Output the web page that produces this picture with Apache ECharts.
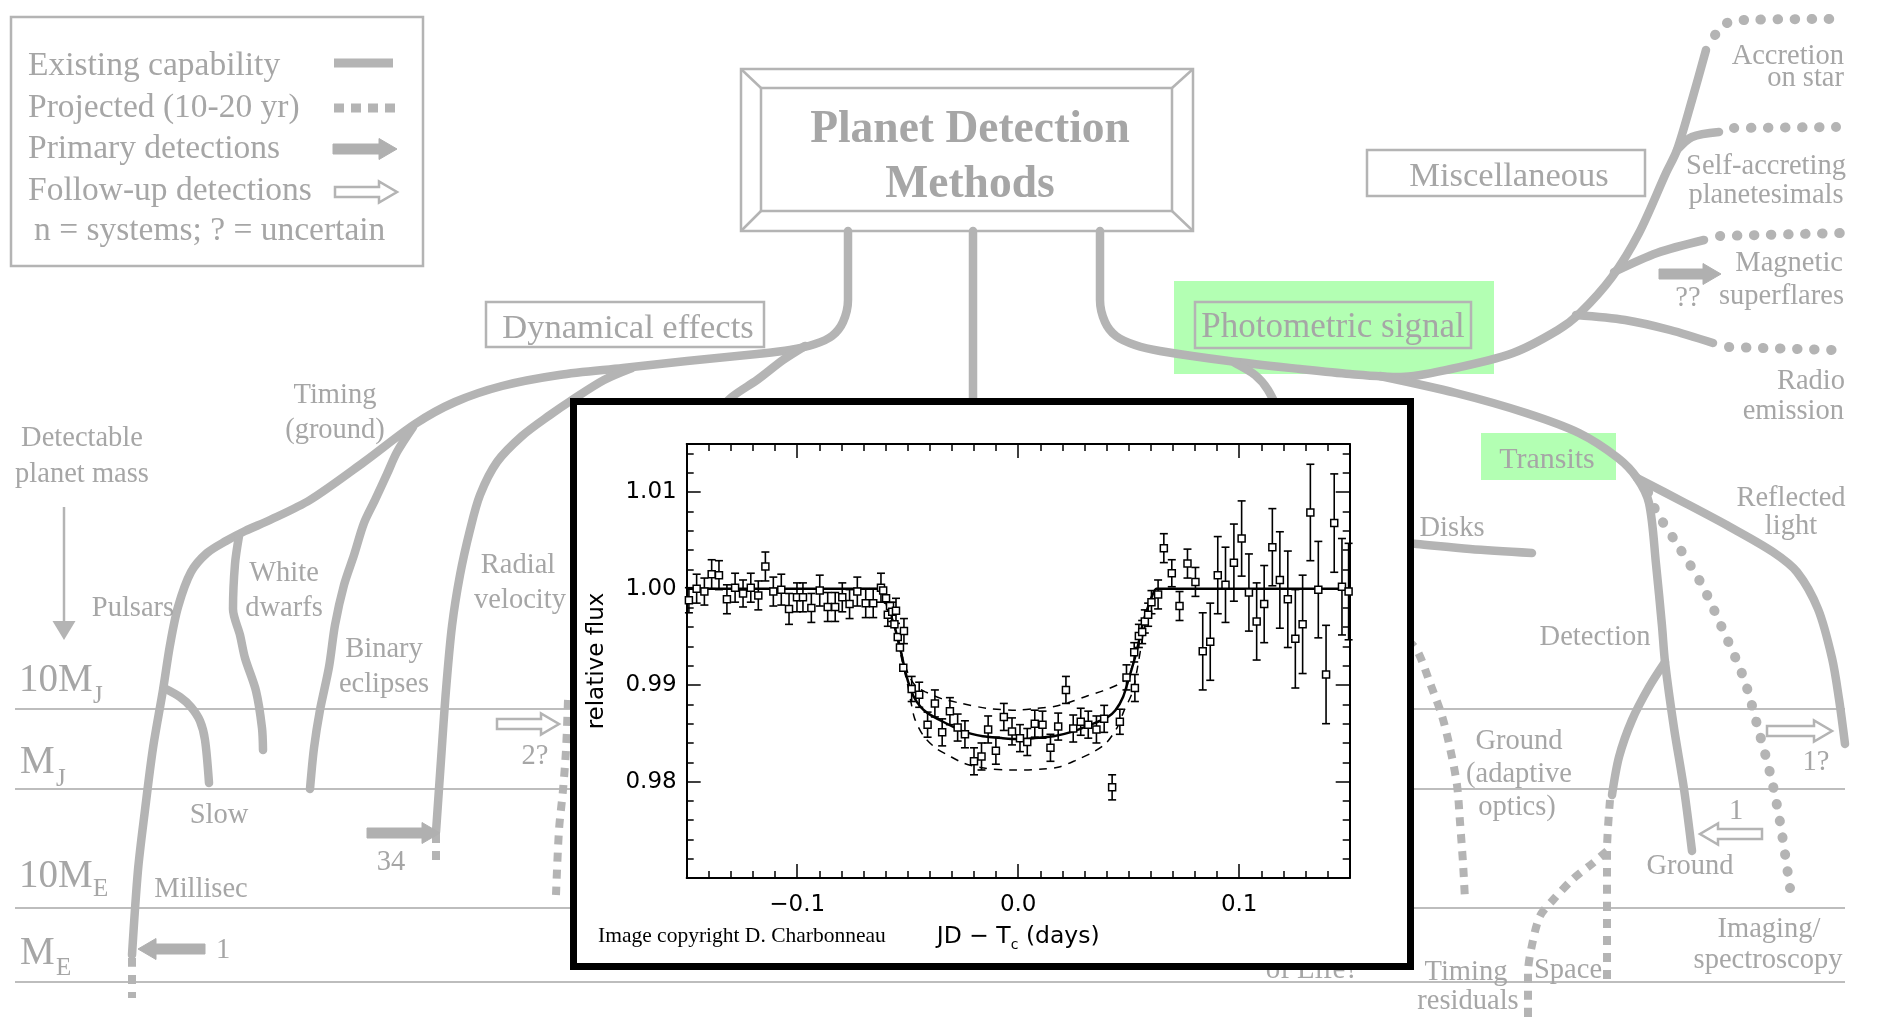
<!DOCTYPE html>
<html>
<head>
<meta charset="utf-8">
<title>Planet Detection Methods</title>
<script src="https://cdn.jsdelivr.net/npm/echarts@6.0.0/dist/echarts.min.js"></script>
<style>
  html, body { margin: 0; padding: 0; background: #fff; }
  #chart { width: 1902px; height: 1022px; }
</style>
</head>
<body>
<div id="chart"></div>
<script>
// ---- inset: transit light curve (HD 209458) ----
const obsTime = [
  -0.1490, -0.1455, -0.1420, -0.1387, -0.1354, -0.1318, -0.1281, -0.1245, -0.1210, -0.1176,
  -0.1144, -0.1108, -0.1072, -0.1037, -0.1001, -0.0974, -0.0936, -0.0898, -0.0862, -0.0828,
  -0.0796, -0.0763, -0.0728, -0.0690, -0.0656, -0.0621, -0.0611, -0.0598, -0.0590, -0.0580,
  -0.0570, -0.0560, -0.0553, -0.0545, -0.0535, -0.0520, -0.0517, -0.0482, -0.0448, -0.0410,
  -0.0377, -0.0344, -0.0309, -0.0274, -0.0241, -0.0200, -0.0166, -0.0136, -0.0101, -0.0065,
  -0.0028, 0.0008, 0.0041, 0.0075, 0.0110, 0.0146, 0.0181, 0.0216, 0.0249, 0.0283,
  0.0317, 0.0354, 0.0389, 0.0425, 0.0460, 0.0490, 0.0525, 0.0528, 0.0546, 0.0561,
  0.0573, 0.0588, 0.0603, 0.0633, 0.0659, 0.0695, 0.0730, 0.0766, 0.0802, 0.0835,
  0.0869, 0.0903, 0.0938, 0.0976, 0.1011, 0.1044, 0.1079, 0.1113, 0.1150, 0.1184,
  0.1220, 0.1254, 0.1287, 0.1322, 0.1358, 0.1393, 0.1430, 0.1465, 0.1495
];
const obsFlux = [
  0.9988, 1.0000, 0.9997, 1.0015, 1.0014, 0.9989, 1.0001, 0.9995, 1.0001, 0.9993,
  1.0023, 0.9997, 0.9999, 0.9979, 0.9991, 0.9991, 0.9980, 0.9998, 0.9981, 0.9981,
  0.9991, 0.9984, 0.9997, 0.9985, 0.9985, 1.0001, 0.9998, 0.9990, 0.9973, 0.9982,
  0.9976, 0.9963, 0.9977, 0.9950, 0.9939, 0.9918, 0.9956, 0.9896, 0.9890, 0.9859,
  0.9881, 0.9851, 0.9873, 0.9856, 0.9849, 0.9821, 0.9826, 0.9854, 0.9832, 0.9867,
  0.9852, 0.9845, 0.9841, 0.9860, 0.9859, 0.9835, 0.9857, 0.9895, 0.9855, 0.9862,
  0.9859, 0.9854, 0.9865, 0.9794, 0.9862, 0.9908, 0.9934, 0.9897, 0.9951, 0.9955,
  0.9966, 0.9973, 0.9986, 0.9994, 1.0042, 1.0016, 0.9982, 1.0026, 1.0007, 0.9935,
  0.9945, 1.0014, 1.0004, 1.0027, 1.0052, 0.9996, 0.9966, 0.9984, 1.0043, 1.0009,
  0.9989, 0.9948, 0.9963, 1.0079, 0.9999, 0.9911, 1.0068, 1.0002, 0.9997
];
const obsErr = [
  0.0013, 0.0015, 0.0014, 0.0015, 0.0015, 0.0015, 0.0015, 0.0014, 0.0015, 0.0015,
  0.0015, 0.0015, 0.0016, 0.0016, 0.0015, 0.0015, 0.0015, 0.0016, 0.0015, 0.0015,
  0.0015, 0.0015, 0.0015, 0.0015, 0.0015, 0.0015, 0, 0, 0.0012, 0,
  0.0010, 0, 0.0013, 0, 0, 0, 0.0013, 0.0013, 0.0013, 0.0013,
  0.0014, 0.0014, 0.0014, 0.0014, 0.0014, 0.0014, 0.0014, 0.0014, 0.0014, 0.0014,
  0.0014, 0.0014, 0.0014, 0.0014, 0.0014, 0.0014, 0.0014, 0.0014, 0.0014, 0.0014,
  0.0014, 0.0014, 0.0014, 0.0013, 0.0013, 0.0013, 0.0010, 0.0014, 0.0012, 0.0012,
  0.0012, 0.0012, 0.0012, 0.0015, 0.0015, 0.0014, 0.0015, 0.0015, 0.0015, 0.0040,
  0.0040, 0.0040, 0.0039, 0.0040, 0.0039, 0.0040, 0.0040, 0.0040, 0.0040, 0.0050,
  0.0050, 0.0051, 0.0051, 0.0050, 0.0050, 0.0051, 0.0051, 0.0050, 0.0050
];

// best-fit model and the two bracketing models (dashed)
const modelTime = [-0.150, -0.0618, -0.0605, -0.0590, -0.0565, -0.0535, -0.0505, -0.0475, -0.0440, -0.0410,
  -0.0340, -0.0250, -0.0160, -0.0070, 0.0000, 0.0070, 0.0160, 0.0250, 0.0340, 0.0400,
  0.0440, 0.0475, 0.0505, 0.0535, 0.0565, 0.0590, 0.0605, 0.0625, 0.150];
const modelFlux = [1.0000, 1.0000, 0.9992, 0.9980, 0.9965, 0.9939, 0.9909, 0.9889, 0.9877, 0.9871,
  0.9862, 0.9852, 0.9847, 0.9845, 0.9844, 0.9845, 0.9847, 0.9852, 0.9860, 0.9866,
  0.9874, 0.9888, 0.9910, 0.9934, 0.9965, 0.9983, 0.9992, 1.0000, 1.0000];
const shallowTime = [-0.0560, -0.0520, -0.0490, -0.0460, -0.0420, -0.0347, -0.0255, -0.0142, -0.0010,
  0.0085, 0.0168, 0.0242, 0.0315, 0.0383, 0.0455, 0.0495, 0.0530, 0.0560];
const shallowFlux = [0.9966, 0.9926, 0.9908, 0.9898, 0.9893, 0.9886, 0.9881, 0.9876, 0.9874,
  0.9876, 0.9878, 0.9883, 0.9889, 0.9894, 0.9901, 0.9908, 0.9930, 0.9963];
const deepTime = [-0.0560, -0.0525, -0.0500, -0.0484, -0.0468, -0.0430, -0.0375, -0.0315, -0.0245, -0.0155, -0.0030,
  0.0030, 0.0112, 0.0185, 0.0270, 0.0335, 0.0398, 0.0450, 0.0478, 0.0517, 0.0545, 0.0570];
const deepFlux = [0.9962, 0.9925, 0.9900, 0.9881, 0.9865, 0.9848, 0.9835, 0.9827, 0.9819, 0.9814, 0.9812,
  0.9812, 0.9813, 0.9815, 0.9823, 0.9830, 0.9840, 0.9857, 0.9873, 0.9893, 0.9925, 0.9960];

const xMajor = [-0.1, 0.0, 0.1];
const yMajor = [0.98, 0.99, 1.00, 1.01];

// ---- background diagram (page pixel units) ----
const massLevels = [709, 789, 908, 982];

const solidPaths = [
  [[973, 231], [973, 400]],
  // dynamical effects -> timing -> pulsars
  [[848, 231], [848, 300], [843, 322], [832, 336], [815, 344], [790, 350], [757, 354], [687, 361], [623, 368],
   [559, 375], [502, 386], [455, 402], [415, 424], [364, 462], [310, 500], [270, 520], [245, 531], [226, 541],
   [207, 553], [191, 572], [178, 607], [170, 645], [163, 690], [153, 748], [145, 810], [138, 870], [132, 955]],
  // radial velocity
  [[632, 368], [604, 380], [572, 400], [550, 415], [522, 436], [497, 462], [480, 495], [470, 530], [460, 575],
   [452, 626], [446, 690], [441, 760], [436, 832]],
  [[805, 346], [783, 360], [757, 380], [732, 397], [700, 430]],
  // binary eclipses
  [[413, 427], [397, 452], [387, 474], [375, 500], [364, 523], [354, 555], [344, 585], [335, 625], [329, 667],
   [320, 710], [314, 748], [310, 789]],
  // white dwarfs
  [[239, 536], [235, 564], [233, 609], [240, 635], [245, 658], [256, 691], [262, 728], [263, 750]],
  // slow pulsars
  [[164, 688], [180, 697], [191, 707], [200, 721], [205, 740], [209, 783]],
  // photometric -> miscellaneous
  [[1100, 231], [1100, 300], [1105, 322], [1116, 336], [1135, 345], [1160, 351], [1229, 361], [1300, 369],
   [1350, 374], [1401, 377], [1451, 369], [1513, 353], [1558, 330], [1580, 313], [1612, 277], [1639, 233],
   [1666, 173], [1677, 150], [1692, 100], [1706, 50]],
  [[1235, 363], [1255, 375], [1268, 390], [1285, 425]],
  // transits -> detection
  [[1380, 376], [1456, 393], [1526, 413], [1579, 433], [1618, 458], [1637, 478], [1649, 503], [1656, 564],
   [1662, 626], [1665, 662], [1674, 728], [1684, 789], [1692, 851]],
  // reflected light
  [[1637, 478], [1685, 503], [1730, 527], [1773, 552], [1797, 572], [1818, 609], [1832, 658], [1839, 699], [1845, 744]],
  // ground (adaptive optics) branch
  [[1665, 662], [1649, 687], [1632, 720], [1619, 757], [1612, 795]],
  // disks
  [[1395, 542], [1417, 544], [1470, 549], [1532, 553]],
  // misc side branches
  [[1677, 150], [1692, 137], [1719, 132]],
  [[1614, 272], [1657, 253], [1704, 240]],
  [[1576, 315], [1625, 320], [1670, 330], [1713, 343]]
];

const squareDotPaths = [
  [[132, 958], [132, 998]],
  [[436, 834], [436, 860]],
  [[568, 700], [566, 750], [563, 790], [559, 830], [556, 895]],
  [[1408, 640], [1418, 652], [1430, 683], [1442, 716], [1450, 748], [1457, 785], [1460, 822], [1463, 863], [1465, 900]],
  [[1610, 800], [1607, 851], [1607, 984]],
  [[1607, 851], [1593, 863], [1573, 879], [1553, 900], [1540, 916], [1532, 945], [1528, 973], [1528, 1018]]
];

const roundDotPaths = [
  [[1715, 35], [1727, 23], [1744, 20], [1831, 19]],
  [[1734, 128], [1836, 127]],
  [[1720, 236], [1840, 233]],
  [[1729, 347], [1833, 350]],
  [[1648, 492], [1656, 511], [1677, 544], [1702, 585], [1723, 630], [1744, 679], [1758, 728], [1771, 777], [1780, 822], [1790, 888]]
];

const legendSolid = [[334, 63], [393, 63]];
const legendDotted = [[334, 108], [395, 108]];

const titleBevel = [
  [[741, 69], [761, 88]], [[1193, 69], [1172, 88]],
  [[741, 231], [761, 211]], [[1193, 231], [1172, 211]]
];

const greenBoxes = [[1174, 281, 1494, 374], [1481, 433, 1616, 480]];
const frameBoxes = [
  [11, 17, 423, 266], [741, 69, 1193, 231], [761, 88, 1172, 211],
  [486, 302, 764, 347], [1367, 150, 1645, 196], [1195, 302, 1471, 348]
];

// x1, y1, x2 (head), y2, kind
const arrows = [
  [333, 149, 397, 149, 'fill'], [335, 192, 397, 192, 'open'],
  [205, 949, 138, 949, 'fill'], [367, 833, 440, 833, 'fill'], [497, 724, 559, 724, 'open'],
  [1659, 274, 1721, 274, 'fill'], [1767, 731, 1832, 731, 'open'], [1762, 834, 1700, 834, 'open'],
  [64, 507, 64, 640, 'thin']
];

// x, y, text, size, align, weight
const diagramLabels = [
  [28, 66, 'Existing capability', 33.5, 'left'],
  [28, 108, 'Projected (10-20 yr)', 33.5, 'left'],
  [28, 149, 'Primary detections', 33.5, 'left'],
  [28, 191, 'Follow-up detections', 33.5, 'left'],
  [34, 231, 'n = systems; ? = uncertain', 33.5, 'left'],
  [970, 130, 'Planet Detection', 45.5, 'center', 'bold'],
  [970, 185, 'Methods', 45.5, 'center', 'bold'],
  [628, 329, 'Dynamical effects', 34.5, 'center'],
  [1509, 177, 'Miscellaneous', 34.5, 'center'],
  [1333, 328, 'Photometric signal', 35, 'center'],
  [1547, 460, 'Transits', 30, 'center'],
  [82, 439, 'Detectable', 28.5, 'center'], [82, 475, 'planet mass', 28.5, 'center'],
  [335, 396, 'Timing', 28.5, 'center'], [335, 431, '(ground)', 28.5, 'center'],
  [133, 609, 'Pulsars', 28.5, 'center'],
  [284, 574, 'White', 28.5, 'center'], [284, 609, 'dwarfs', 28.5, 'center'],
  [384, 650, 'Binary', 28.5, 'center'], [384, 685, 'eclipses', 28.5, 'center'],
  [518, 566, 'Radial', 28.5, 'center'], [520, 601, 'velocity', 28.5, 'center'],
  [219, 816, 'Slow', 28.5, 'center'], [201, 890, 'Millisec', 28.5, 'center'],
  [391, 863, '34', 28.5, 'center'], [535, 757, '2?', 28.5, 'center'], [223, 951, '1', 28.5, 'center'],
  [19, 681, '10M', 39, 'left'], [93, 696, 'J', 25, 'left'],
  [20, 763, 'M', 39, 'left'], [56, 779, 'J', 25, 'left'],
  [19, 877, '10M', 39, 'left'], [93, 889, 'E', 25, 'left'],
  [20, 954, 'M', 39, 'left'], [56, 968, 'E', 25, 'left'],
  [1844, 57, 'Accretion', 28.5, 'right'], [1844, 79, 'on star', 28.5, 'right'],
  [1766, 167, 'Self-accreting', 28.5, 'center'], [1766, 196, 'planetesimals', 28.5, 'center'],
  [1843, 264, 'Magnetic', 28.5, 'right'], [1844, 297, 'superflares', 28.5, 'right'], [1688, 299, '??', 28.5, 'center'],
  [1845, 382, 'Radio', 28.5, 'right'], [1844, 412, 'emission', 28.5, 'right'],
  [1791, 499, 'Reflected', 28.5, 'center'], [1791, 527, 'light', 28.5, 'center'],
  [1452, 529, 'Disks', 28.5, 'center'],
  [1595, 638, 'Detection', 28.5, 'center'],
  [1519, 742, 'Ground', 28.5, 'center'], [1519, 775, '(adaptive', 28.5, 'center'], [1517, 808, 'optics)', 28.5, 'center'],
  [1816, 763, '1?', 28.5, 'center'], [1736, 812, '1', 28.5, 'center'], [1690, 867, 'Ground', 28.5, 'center'],
  [1769, 930, 'Imaging/', 28.5, 'center'], [1768, 961, 'spectroscopy', 28.5, 'center'],
  [1466, 973, 'Timing', 28.5, 'center'], [1468, 1002, 'residuals', 28.5, 'center'],
  [1568, 971, 'Space', 28.5, 'center'],
  [1312, 970, 'of Life?', 29, 'center']
];

const LINE = '#b4b4b4';
const TEXT = '#a6a6a6';
const GREEN = '#b3ffb3';
const SERIF = '"Liberation Serif", "DejaVu Serif", serif';
const SANS = '"DejaVu Sans", "Liberation Sans", sans-serif';

function steps(a, b, step, dp) {
  const out = [];
  for (let i = 0; a + i * step <= b + step / 2; i++) out.push(+(a + i * step).toFixed(dp));
  return out;
}
const xMinor = steps(-0.15, 0.15, 0.01, 3);
const yMinor = steps(0.970, 1.014, 0.002, 3);

const chart = echarts.init(document.getElementById('chart'));

function pathSeries(pts, lineStyle, smooth) {
  return {
    type: 'line', xAxisIndex: 0, yAxisIndex: 0, data: pts, symbol: 'none',
    smooth: smooth, silent: true, z: 1, lineStyle: lineStyle
  };
}

const solidStyle = { color: LINE, width: 8.5, cap: 'round', join: 'round' };
const squareDots = { color: LINE, width: 8, type: [9, 8], cap: 'butt' };
const roundDots = { color: LINE, width: 10, type: [0.5, 16.5], cap: 'round' };

const bgSeries = [];

bgSeries.push({
  type: 'custom', xAxisIndex: 0, yAxisIndex: 0, silent: true, z: 0,
  data: greenBoxes.map(b => b),
  renderItem: (params, api) => {
    const p1 = api.coord([api.value(0), api.value(1)]);
    const p2 = api.coord([api.value(2), api.value(3)]);
    return { type: 'rect', shape: { x: p1[0], y: p1[1], width: p2[0] - p1[0], height: p2[1] - p1[1] },
      style: { fill: GREEN } };
  }
});

massLevels.forEach(y => {
  bgSeries.push(pathSeries([[15, y], [1845, y]], { color: '#bdbdbd', width: 2 }, false));
});

solidPaths.forEach(p => bgSeries.push(pathSeries(p, solidStyle, 0.3)));
squareDotPaths.forEach(p => bgSeries.push(pathSeries(p, squareDots, 0.3)));
roundDotPaths.forEach(p => bgSeries.push(pathSeries(p, roundDots, 0.3)));
bgSeries.push(pathSeries(legendSolid, { color: LINE, width: 9 }, false));
bgSeries.push(pathSeries(legendDotted, { color: LINE, width: 9, type: [10, 7], cap: 'butt' }, false));
titleBevel.forEach(p => bgSeries.push(pathSeries(p, { color: LINE, width: 2.5 }, false)));

bgSeries.push({
  type: 'custom', xAxisIndex: 0, yAxisIndex: 0, silent: true, z: 2,
  data: frameBoxes.map(b => b),
  renderItem: (params, api) => {
    const p1 = api.coord([api.value(0), api.value(1)]);
    const p2 = api.coord([api.value(2), api.value(3)]);
    return { type: 'rect', shape: { x: p1[0], y: p1[1], width: p2[0] - p1[0], height: p2[1] - p1[1] },
      style: { fill: 'none', stroke: LINE, lineWidth: 2.5 } };
  }
});

bgSeries.push({
  type: 'custom', xAxisIndex: 0, yAxisIndex: 0, silent: true, z: 2,
  data: arrows.map(a => a.slice(0, 4)),
  renderItem: (params, api) => {
    const kind = arrows[params.dataIndex][4];
    const p1 = api.coord([api.value(0), api.value(1)]);
    const p2 = api.coord([api.value(2), api.value(3)]);
    const dx = p2[0] - p1[0], dy = p2[1] - p1[1];
    const len = Math.sqrt(dx * dx + dy * dy);
    const ux = dx / len, uy = dy / len, nx = -uy, ny = ux;
    if (kind === 'thin') {
      const L = 19, H = 11.5;
      const bx = p2[0] - ux * L, by = p2[1] - uy * L;
      return { type: 'group', children: [
        { type: 'line', shape: { x1: p1[0], y1: p1[1], x2: bx, y2: by }, style: { stroke: LINE, lineWidth: 2.5 } },
        { type: 'polygon', shape: { points: [[bx + nx * H, by + ny * H], [p2[0], p2[1]], [bx - nx * H, by - ny * H]] },
          style: { fill: LINE } }
      ] };
    }
    const h = 5, H = 10.5, L = 18;
    const bx = p2[0] - ux * L, by = p2[1] - uy * L;
    const pts = [
      [p1[0] + nx * h, p1[1] + ny * h], [bx + nx * h, by + ny * h], [bx + nx * H, by + ny * H],
      [p2[0], p2[1]], [bx - nx * H, by - ny * H], [bx - nx * h, by - ny * h], [p1[0] - nx * h, p1[1] - ny * h]
    ];
    const style = kind === 'fill'
      ? { fill: '#b0b0b0', stroke: '#b0b0b0', lineWidth: 1 }
      : { fill: '#fff', stroke: LINE, lineWidth: 2.5 };
    return { type: 'polygon', shape: { points: pts }, style: style };
  }
});

bgSeries.push({
  type: 'custom', xAxisIndex: 0, yAxisIndex: 0, silent: true, z: 2,
  data: diagramLabels.map(l => [l[0], l[1]]),
  renderItem: (params, api) => {
    const l = diagramLabels[params.dataIndex];
    const p = api.coord([api.value(0), api.value(1)]);
    return {
      type: 'text', x: p[0], y: p[1],
      style: {
        text: l[2], fill: TEXT, font: (l[5] || 'normal') + ' ' + l[3] + 'px ' + SERIF,
        align: l[4], verticalAlign: 'middle', textAlign: l[4], textVerticalAlign: 'middle'
      }
    };
  }
});

// ---- inset axes ----
const tickStyle = { color: '#000', width: 1.5 };
function insetX(position, major, labels) {
  return {
    type: 'value', gridIndex: 1, position: position, min: -0.15, max: 0.15, z: 5,
    axisLine: { show: major, onZero: false, lineStyle: { color: '#000', width: 2 } },
    axisTick: { show: true, inside: true, length: major ? 14 : 7, customValues: major ? xMajor : xMinor, lineStyle: tickStyle },
    axisLabel: {
      show: labels, customValues: xMajor, margin: 16, color: '#000', fontFamily: SANS, fontSize: 23,
      formatter: v => (v < 0 ? '\u2212' : '') + Math.abs(v).toFixed(1)
    },
    splitLine: { show: false },
    name: labels ? '{a|JD \u2212 T}{s|c}{a| (days)}' : '',
    nameLocation: 'middle', nameGap: 44,
    nameTextStyle: {
      rich: {
        a: { fontFamily: SANS, fontSize: 23.5, color: '#000' },
        s: { fontFamily: SANS, fontSize: 14, color: '#000', padding: [16, 0, 0, 0] }
      }
    }
  };
}
function insetY(position, major, labels) {
  return {
    type: 'value', gridIndex: 1, position: position, min: 0.970, max: 1.015, z: 5,
    axisLine: { show: major, onZero: false, lineStyle: { color: '#000', width: 2 } },
    axisTick: { show: true, inside: true, length: major ? 14 : 7, customValues: major ? yMajor : yMinor, lineStyle: tickStyle },
    axisLabel: {
      show: labels, customValues: yMajor, margin: 10, color: '#000', fontFamily: SANS, fontSize: 23,
      formatter: v => v.toFixed(2)
    },
    splitLine: { show: false },
    name: labels ? 'relative flux' : '',
    nameLocation: 'middle', nameGap: 78, nameRotate: 90,
    nameTextStyle: { fontFamily: SANS, fontSize: 23, color: '#000' }
  };
}

const insetSeries = [
  {
    type: 'line', xAxisIndex: 1, yAxisIndex: 1, z: 6, symbol: 'none', smooth: 0.2, silent: true,
    data: modelTime.map((t, i) => [t, modelFlux[i]]),
    lineStyle: { color: '#000', width: 2.5 }
  },
  {
    type: 'line', xAxisIndex: 1, yAxisIndex: 1, z: 6, symbol: 'none', smooth: 0.3, silent: true,
    data: shallowTime.map((t, i) => [t, shallowFlux[i]]),
    lineStyle: { color: '#000', width: 1.5, type: [8, 7] }
  },
  {
    type: 'line', xAxisIndex: 1, yAxisIndex: 1, z: 6, symbol: 'none', smooth: 0.3, silent: true,
    data: deepTime.map((t, i) => [t, deepFlux[i]]),
    lineStyle: { color: '#000', width: 1.5, type: [8, 7] }
  },
  {
    type: 'custom', xAxisIndex: 1, yAxisIndex: 1, z: 7, silent: true,
    data: obsTime.map((t, i) => [t, obsFlux[i], obsErr[i]]),
    encode: { x: 0, y: 1 },
    renderItem: (params, api) => {
      const e = api.value(2);
      if (!e) return { type: 'group', children: [] };
      const x = api.value(0), y = api.value(1);
      const hi = api.coord([x, y + e]);
      const lo = api.coord([x, y - e]);
      const c = 4;
      const st = { stroke: '#000', lineWidth: 1.6 };
      return { type: 'group', children: [
        { type: 'line', shape: { x1: hi[0], y1: hi[1], x2: lo[0], y2: lo[1] }, style: st },
        { type: 'line', shape: { x1: hi[0] - c, y1: hi[1], x2: hi[0] + c, y2: hi[1] }, style: st },
        { type: 'line', shape: { x1: lo[0] - c, y1: lo[1], x2: lo[0] + c, y2: lo[1] }, style: st }
      ] };
    }
  },
  {
    type: 'scatter', xAxisIndex: 1, yAxisIndex: 1, z: 8, silent: true,
    data: obsTime.map((t, i) => [t, obsFlux[i]]),
    symbol: 'rect', symbolSize: 7,
    itemStyle: { color: '#fff', borderColor: '#000', borderWidth: 1.5, opacity: 1 }
  }
];

const option = {
  animation: false,
  backgroundColor: '#fff',
  grid: [
    { left: 0, top: 0, width: 1902, height: 1022, show: false, outerBoundsMode: 'none' },
    { left: 686.7, top: 444, width: 663, height: 434, show: false, outerBoundsMode: 'none' }
  ],
  xAxis: [
    { type: 'value', gridIndex: 0, min: 0, max: 1902, show: false },
    insetX('bottom', true, true), insetX('bottom', false, false),
    insetX('top', true, false), insetX('top', false, false)
  ],
  yAxis: [
    { type: 'value', gridIndex: 0, min: 0, max: 1022, inverse: true, show: false },
    insetY('left', true, true), insetY('left', false, false),
    insetY('right', true, false), insetY('right', false, false)
  ],
  graphic: {
    elements: [
      { type: 'rect', z: 3, silent: true,
        shape: { x: 573.5, y: 401.5, width: 837, height: 565 },
        style: { fill: '#fff', stroke: '#000', lineWidth: 7 } },
      { type: 'text', z: 9, silent: true, x: 598, y: 936,
        style: { text: 'Image copyright D. Charbonneau', fill: '#000', font: '21.5px ' + SERIF,
          verticalAlign: 'middle', textVerticalAlign: 'middle' } }
    ]
  },
  series: bgSeries.concat(insetSeries)
};

chart.setOption(option);
window.addEventListener('resize', () => chart.resize());
</script>
</body>
</html>
